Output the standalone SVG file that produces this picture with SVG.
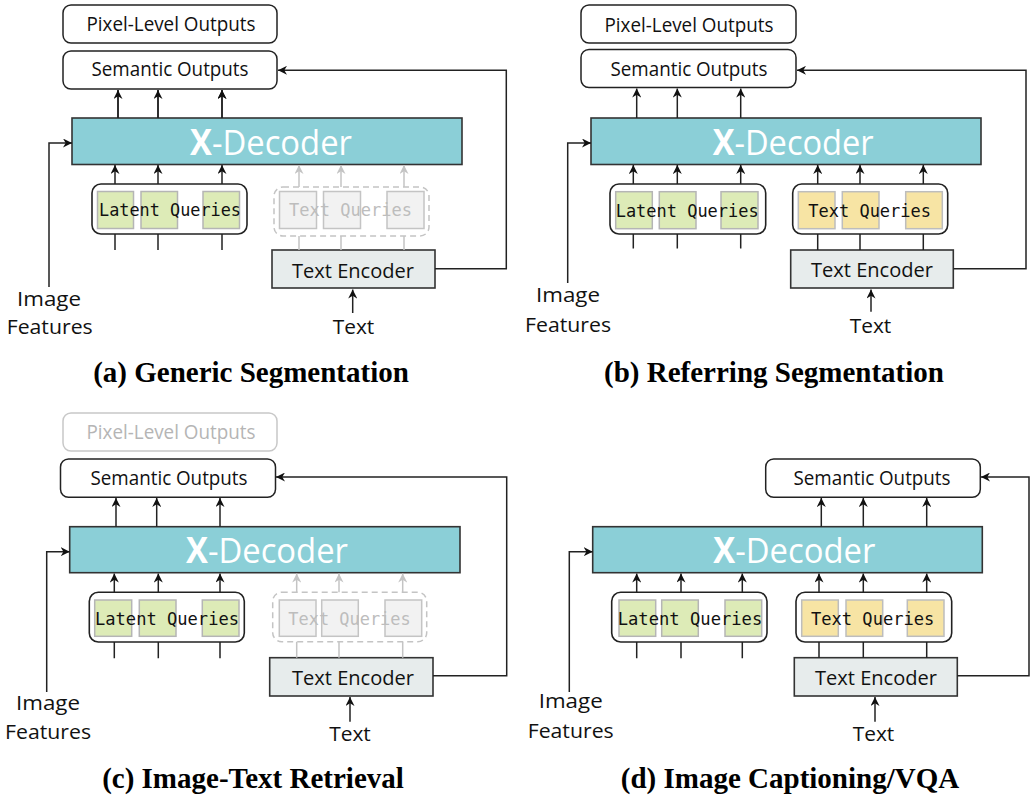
<svg xmlns="http://www.w3.org/2000/svg" width="1035" height="803" viewBox="0 0 1035 803">
<defs>
<marker id="ah" viewBox="0 0 10 10" refX="10" refY="5" markerWidth="9" markerHeight="9" markerUnits="userSpaceOnUse" orient="auto"><path d="M0,0 L10,5 L0,10 L3,5 z" fill="#111"/></marker>
<marker id="ahg" viewBox="0 0 10 10" refX="10" refY="5" markerWidth="9" markerHeight="9" markerUnits="userSpaceOnUse" orient="auto"><path d="M0,0 L10,5 L0,10 L3,5 z" fill="#c4c4c4"/></marker>
</defs>
<style>
.box{fill:#fff;stroke:#222;stroke-width:1.5}
.gbox{fill:#fff;stroke:#c8c8c8;stroke-width:1.5}
.grp{fill:#fff;stroke:#222;stroke-width:1.6}
.ggrp{fill:#fff;stroke:#c4c4c4;stroke-width:1.5;stroke-dasharray:6,4}
.dec{fill:#8bcfd7;stroke:#333;stroke-width:1.6}
.enc{fill:#e7ecec;stroke:#333;stroke-width:1.6}
.gq{fill:#ddebb7;stroke:#b5b5b5;stroke-width:1.5}
.yq{fill:#f7e4a4;stroke:#bdbdbd;stroke-width:1.5}
.xq{fill:#f2f2f2;stroke:#c4c4c4;stroke-width:1.5}
.lbl{font-family:"Open Sans","DejaVu Sans",sans-serif;font-size:20px;fill:#111}
.glbl{font-family:"Open Sans","DejaVu Sans",sans-serif;font-size:20px;fill:#b5b5b5}
.dtx{font-family:"Open Sans","DejaVu Sans",sans-serif;font-size:35px;fill:#fff}
.mono{font-family:"DejaVu Sans Mono","Liberation Mono",monospace;font-size:17px;fill:#111}
.gmono{font-family:"DejaVu Sans Mono","Liberation Mono",monospace;font-size:17px;fill:#bdbdbd}
.cap{font-family:"Liberation Serif","Times New Roman",serif;font-size:29px;font-weight:bold;fill:#000;text-anchor:middle}
.c{text-anchor:middle}
.ln{fill:none;stroke:#222;stroke-width:1.5}
.gln{fill:none;stroke:#c4c4c4;stroke-width:1.5}
</style>

<!-- ===== Panel (a) ===== -->
<g id="a-pixel"><rect class="box" x="63" y="5" width="214" height="38" rx="8"/><text class="lbl c" x="171" y="31" textLength="169" lengthAdjust="spacingAndGlyphs">Pixel-Level Outputs</text></g>
<g id="a-semantic"><rect class="box" x="63" y="51" width="214" height="38" rx="8"/><text class="lbl c" x="170" y="76" textLength="157" lengthAdjust="spacingAndGlyphs">Semantic Outputs</text></g>
<g id="a-decoder"><rect class="dec" x="72" y="118" width="390" height="46.5"/><text class="dtx" x="190" y="155" textLength="162" lengthAdjust="spacingAndGlyphs"><tspan font-weight="bold">X</tspan>-Decoder</text></g>
<g id="a-latent"><rect class="grp" x="92" y="184" width="155" height="50" rx="9"/><rect class="gq" x="97.5" y="191.5" width="36" height="37"/><rect class="gq" x="141" y="191.5" width="36.5" height="37"/><rect class="gq" x="203" y="191.5" width="36.5" height="37"/><text class="mono" x="99" y="216" textLength="142" lengthAdjust="spacingAndGlyphs">Latent Queries</text></g>
<g id="a-textq"><rect class="ggrp" x="274" y="187" width="155" height="49" rx="9"/><rect class="xq" x="279.5" y="191.5" width="37" height="37"/><rect class="xq" x="323.5" y="191.5" width="37" height="37"/><rect class="xq" x="387" y="191.5" width="37" height="37"/><text class="gmono" x="289" y="216" textLength="123" lengthAdjust="spacingAndGlyphs">Text Queries</text></g>
<g id="a-encoder"><rect class="enc" x="272" y="250" width="163" height="38"/><text class="lbl c" x="353" y="277.5" textLength="122" lengthAdjust="spacingAndGlyphs">Text Encoder</text></g>
<g id="a-image"><text class="lbl c" x="49" y="306" textLength="64" lengthAdjust="spacingAndGlyphs">Image</text><text class="lbl c" x="49.7" y="334.3" textLength="86" lengthAdjust="spacingAndGlyphs">Features</text></g>
<g id="a-text"><text class="lbl c" x="353.5" y="334.3" textLength="41.6" lengthAdjust="spacingAndGlyphs">Text</text></g>
<g id="a-caption"><text class="cap" x="251" y="382">(a) Generic Segmentation</text></g>
<g id="a-connectors">
<path class="ln" d="M118,118V90M158,118V90M222,118V90" marker-end="url(#ah)"/>
<line class="ln" x1="118" y1="118" x2="118" y2="90" marker-end="url(#ah)"/>
<line class="ln" x1="158" y1="118" x2="158" y2="90" marker-end="url(#ah)"/>
<line class="ln" x1="222" y1="118" x2="222" y2="90" marker-end="url(#ah)"/>
<line class="ln" x1="115" y1="184" x2="115" y2="165" marker-end="url(#ah)"/>
<line class="ln" x1="158" y1="184" x2="158" y2="165" marker-end="url(#ah)"/>
<line class="ln" x1="222" y1="184" x2="222" y2="165" marker-end="url(#ah)"/>
<path class="ln" d="M115,234V250M158,234V250M222,234V250"/>
<line class="gln" x1="299" y1="187" x2="299" y2="165" marker-end="url(#ahg)"/>
<line class="gln" x1="341" y1="187" x2="341" y2="165" marker-end="url(#ahg)"/>
<line class="gln" x1="404" y1="187" x2="404" y2="165" marker-end="url(#ahg)"/>
<path class="gln" d="M299,236V250M341,236V250M404,236V250"/>
<path class="ln" d="M435,268.7H506.3V70.3H278" marker-end="url(#ah)"/>
<path class="ln" d="M49,287V143H72" marker-end="url(#ah)"/>
<line class="ln" x1="352.7" y1="313" x2="352.7" y2="289.5" marker-end="url(#ah)"/>
</g>

<!-- ===== Panel (b) ===== -->
<g id="b-pixel"><rect class="box" x="581" y="5" width="215" height="38" rx="8"/><text class="lbl c" x="689" y="31.5" textLength="169" lengthAdjust="spacingAndGlyphs">Pixel-Level Outputs</text></g>
<g id="b-semantic"><rect class="box" x="581" y="49.5" width="215" height="38" rx="8"/><text class="lbl c" x="689" y="75.5" textLength="157" lengthAdjust="spacingAndGlyphs">Semantic Outputs</text></g>
<g id="b-decoder"><rect class="dec" x="591" y="118" width="390" height="46.5"/><text class="dtx" x="712.7" y="155" textLength="161" lengthAdjust="spacingAndGlyphs"><tspan font-weight="bold">X</tspan>-Decoder</text></g>
<g id="b-latent"><rect class="grp" x="610" y="184" width="155.7" height="50" rx="9"/><rect class="gq" x="615.7" y="191.7" width="36.6" height="37"/><rect class="gq" x="659.3" y="191.7" width="36.7" height="37"/><rect class="gq" x="721" y="191.7" width="37" height="37"/><text class="mono" x="615.7" y="216.7" textLength="143" lengthAdjust="spacingAndGlyphs">Latent Queries</text></g>
<g id="b-textq"><rect class="grp" x="792.7" y="184" width="155" height="50" rx="9"/><rect class="yq" x="798.3" y="191.7" width="36.7" height="37"/><rect class="yq" x="842.3" y="191.7" width="36.7" height="37"/><rect class="yq" x="905.7" y="191.7" width="36.6" height="37"/><text class="mono" x="808.3" y="216.7" textLength="122.7" lengthAdjust="spacingAndGlyphs">Text Queries</text></g>
<g id="b-encoder"><rect class="enc" x="790.7" y="250" width="162.6" height="38"/><text class="lbl c" x="872" y="277" textLength="122" lengthAdjust="spacingAndGlyphs">Text Encoder</text></g>
<g id="b-image"><text class="lbl c" x="568" y="301.7" textLength="64" lengthAdjust="spacingAndGlyphs">Image</text><text class="lbl c" x="568" y="331.7" textLength="86" lengthAdjust="spacingAndGlyphs">Features</text></g>
<g id="b-text"><text class="lbl c" x="870.5" y="333" textLength="41.6" lengthAdjust="spacingAndGlyphs">Text</text></g>
<g id="b-caption"><text class="cap" x="774" y="382">(b) Referring Segmentation</text></g>
<g id="b-connectors">
<line class="ln" x1="636.7" y1="118" x2="636.7" y2="88.5" marker-end="url(#ah)"/>
<line class="ln" x1="677.3" y1="118" x2="677.3" y2="88.5" marker-end="url(#ah)"/>
<line class="ln" x1="740.7" y1="118" x2="740.7" y2="88.5" marker-end="url(#ah)"/>
<line class="ln" x1="633.3" y1="184" x2="633.3" y2="165" marker-end="url(#ah)"/>
<line class="ln" x1="677.3" y1="184" x2="677.3" y2="165" marker-end="url(#ah)"/>
<line class="ln" x1="740.7" y1="184" x2="740.7" y2="165" marker-end="url(#ah)"/>
<path class="ln" d="M633.3,234V248.5M677.3,234V248.5M740.7,234V248.5"/>
<line class="ln" x1="817.7" y1="184" x2="817.7" y2="165" marker-end="url(#ah)"/>
<line class="ln" x1="860" y1="184" x2="860" y2="165" marker-end="url(#ah)"/>
<line class="ln" x1="923.3" y1="184" x2="923.3" y2="165" marker-end="url(#ah)"/>
<path class="ln" d="M817.7,234V250M860,234V250M923.3,234V250"/>
<path class="ln" d="M953.3,268.7H1026V70.3H797" marker-end="url(#ah)"/>
<path class="ln" d="M567.7,283V143H591" marker-end="url(#ah)"/>
<line class="ln" x1="871" y1="311.7" x2="871" y2="289.5" marker-end="url(#ah)"/>
</g>

<!-- ===== Panel (c) ===== -->
<g id="c-pixel"><rect class="gbox" x="63" y="413" width="214" height="38" rx="8"/><text class="glbl c" x="171" y="439.3" textLength="169" lengthAdjust="spacingAndGlyphs">Pixel-Level Outputs</text></g>
<g id="c-semantic"><rect class="box" x="60.5" y="459" width="215" height="38.3" rx="8"/><text class="lbl c" x="169" y="485" textLength="157" lengthAdjust="spacingAndGlyphs">Semantic Outputs</text></g>
<g id="c-decoder"><rect class="dec" x="69.7" y="526.7" width="390.3" height="46"/><text class="dtx" x="186" y="563" textLength="162" lengthAdjust="spacingAndGlyphs"><tspan font-weight="bold">X</tspan>-Decoder</text></g>
<g id="c-latent"><rect class="grp" x="89.3" y="592.3" width="155" height="49.7" rx="9"/><rect class="gq" x="94.7" y="600" width="37" height="36.3"/><rect class="gq" x="139.3" y="600" width="36.7" height="36.3"/><rect class="gq" x="202.3" y="600" width="36.7" height="36.3"/><text class="mono" x="95" y="625" textLength="144" lengthAdjust="spacingAndGlyphs">Latent Queries</text></g>
<g id="c-textq"><rect class="ggrp" x="272.7" y="592.3" width="154" height="49.4" rx="9"/><rect class="xq" x="279.3" y="600" width="36.7" height="36.3"/><rect class="xq" x="321.7" y="600" width="36.6" height="36.3"/><rect class="xq" x="385" y="600" width="36.7" height="36.3"/><text class="gmono" x="288.3" y="625" textLength="122.4" lengthAdjust="spacingAndGlyphs">Text Queries</text></g>
<g id="c-encoder"><rect class="enc" x="269.7" y="657.7" width="163.3" height="38.3"/><text class="lbl c" x="353" y="684.5" textLength="122" lengthAdjust="spacingAndGlyphs">Text Encoder</text></g>
<g id="c-image"><text class="lbl c" x="48" y="710" textLength="64" lengthAdjust="spacingAndGlyphs">Image</text><text class="lbl c" x="48" y="739" textLength="86" lengthAdjust="spacingAndGlyphs">Features</text></g>
<g id="c-text"><text class="lbl c" x="350" y="740.5" textLength="41.6" lengthAdjust="spacingAndGlyphs">Text</text></g>
<g id="c-caption"><text class="cap" x="253" y="788">(c) Image-Text Retrieval</text></g>
<g id="c-connectors">
<line class="ln" x1="116" y1="526.7" x2="116" y2="498" marker-end="url(#ah)"/>
<line class="ln" x1="156.7" y1="526.7" x2="156.7" y2="498" marker-end="url(#ah)"/>
<line class="ln" x1="220" y1="526.7" x2="220" y2="498" marker-end="url(#ah)"/>
<line class="ln" x1="114.3" y1="592.3" x2="114.3" y2="573.5" marker-end="url(#ah)"/>
<line class="ln" x1="158.3" y1="592.3" x2="158.3" y2="573.5" marker-end="url(#ah)"/>
<line class="ln" x1="220" y1="592.3" x2="220" y2="573.5" marker-end="url(#ah)"/>
<path class="ln" d="M114.3,642V658.3M158.3,642V658.3M220,642V658.3"/>
<line class="gln" x1="296.7" y1="592.3" x2="296.7" y2="573.5" marker-end="url(#ahg)"/>
<line class="gln" x1="339" y1="592.3" x2="339" y2="573.5" marker-end="url(#ahg)"/>
<line class="gln" x1="402.7" y1="592.3" x2="402.7" y2="573.5" marker-end="url(#ahg)"/>
<path class="gln" d="M296.7,641.7V657.7M339,641.7V657.7M402.7,641.7V657.7"/>
<path class="ln" d="M433,675.7H506.7V477H276" marker-end="url(#ah)"/>
<path class="ln" d="M46.7,692V551.7H69.7" marker-end="url(#ah)"/>
<line class="ln" x1="350" y1="721.7" x2="350" y2="697" marker-end="url(#ah)"/>
</g>

<!-- ===== Panel (d) ===== -->
<g id="d-semantic"><rect class="box" x="765.7" y="459" width="214.6" height="38.3" rx="8"/><text class="lbl c" x="872" y="485" textLength="157" lengthAdjust="spacingAndGlyphs">Semantic Outputs</text></g>
<g id="d-decoder"><rect class="dec" x="592.7" y="526.7" width="389.6" height="46"/><text class="dtx" x="713.3" y="563" textLength="162" lengthAdjust="spacingAndGlyphs"><tspan font-weight="bold">X</tspan>-Decoder</text></g>
<g id="d-latent"><rect class="grp" x="611.7" y="592.3" width="155.3" height="49.7" rx="9"/><rect class="gq" x="619" y="600" width="36.7" height="36.3"/><rect class="gq" x="661.7" y="600" width="36.6" height="36.3"/><rect class="gq" x="725" y="600" width="36.7" height="36.3"/><text class="mono" x="617.7" y="625" textLength="144.6" lengthAdjust="spacingAndGlyphs">Latent Queries</text></g>
<g id="d-textq"><rect class="grp" x="796" y="592.3" width="155.7" height="49.7" rx="9"/><rect class="yq" x="801.7" y="600" width="36.6" height="36.3"/><rect class="yq" x="846" y="600" width="36.7" height="36.3"/><rect class="yq" x="907.3" y="600" width="36.7" height="36.3"/><text class="mono" x="811" y="625" textLength="123.3" lengthAdjust="spacingAndGlyphs">Text Queries</text></g>
<g id="d-encoder"><rect class="enc" x="794.3" y="657.7" width="163" height="38.3"/><text class="lbl c" x="876" y="684.5" textLength="122" lengthAdjust="spacingAndGlyphs">Text Encoder</text></g>
<g id="d-image"><text class="lbl c" x="570.7" y="708" textLength="64" lengthAdjust="spacingAndGlyphs">Image</text><text class="lbl c" x="570.7" y="738" textLength="86" lengthAdjust="spacingAndGlyphs">Features</text></g>
<g id="d-text"><text class="lbl c" x="873.5" y="740.5" textLength="41.6" lengthAdjust="spacingAndGlyphs">Text</text></g>
<g id="d-caption"><text class="cap" x="790" y="788">(d) Image Captioning/VQA</text></g>
<g id="d-connectors">
<line class="ln" x1="821.3" y1="526.7" x2="821.3" y2="498" marker-end="url(#ah)"/>
<line class="ln" x1="863.3" y1="526.7" x2="863.3" y2="498" marker-end="url(#ah)"/>
<line class="ln" x1="926.7" y1="526.7" x2="926.7" y2="498" marker-end="url(#ah)"/>
<line class="ln" x1="636.7" y1="592.3" x2="636.7" y2="573.5" marker-end="url(#ah)"/>
<line class="ln" x1="681" y1="592.3" x2="681" y2="573.5" marker-end="url(#ah)"/>
<line class="ln" x1="742.3" y1="592.3" x2="742.3" y2="573.5" marker-end="url(#ah)"/>
<path class="ln" d="M636.7,642V658.3M681,642V658.3M742.3,642V658.3"/>
<line class="ln" x1="819" y1="592.3" x2="819" y2="573.5" marker-end="url(#ah)"/>
<line class="ln" x1="863.3" y1="592.3" x2="863.3" y2="573.5" marker-end="url(#ah)"/>
<line class="ln" x1="926.7" y1="592.3" x2="926.7" y2="573.5" marker-end="url(#ah)"/>
<path class="ln" d="M819,642V657.7M863.3,642V657.7M926.7,642V657.7"/>
<path class="ln" d="M957.3,675.7H1029V477H981" marker-end="url(#ah)"/>
<path class="ln" d="M569.3,692V551.7H592.7" marker-end="url(#ah)"/>
<line class="ln" x1="875" y1="721.7" x2="875" y2="697" marker-end="url(#ah)"/>
</g>
</svg>
